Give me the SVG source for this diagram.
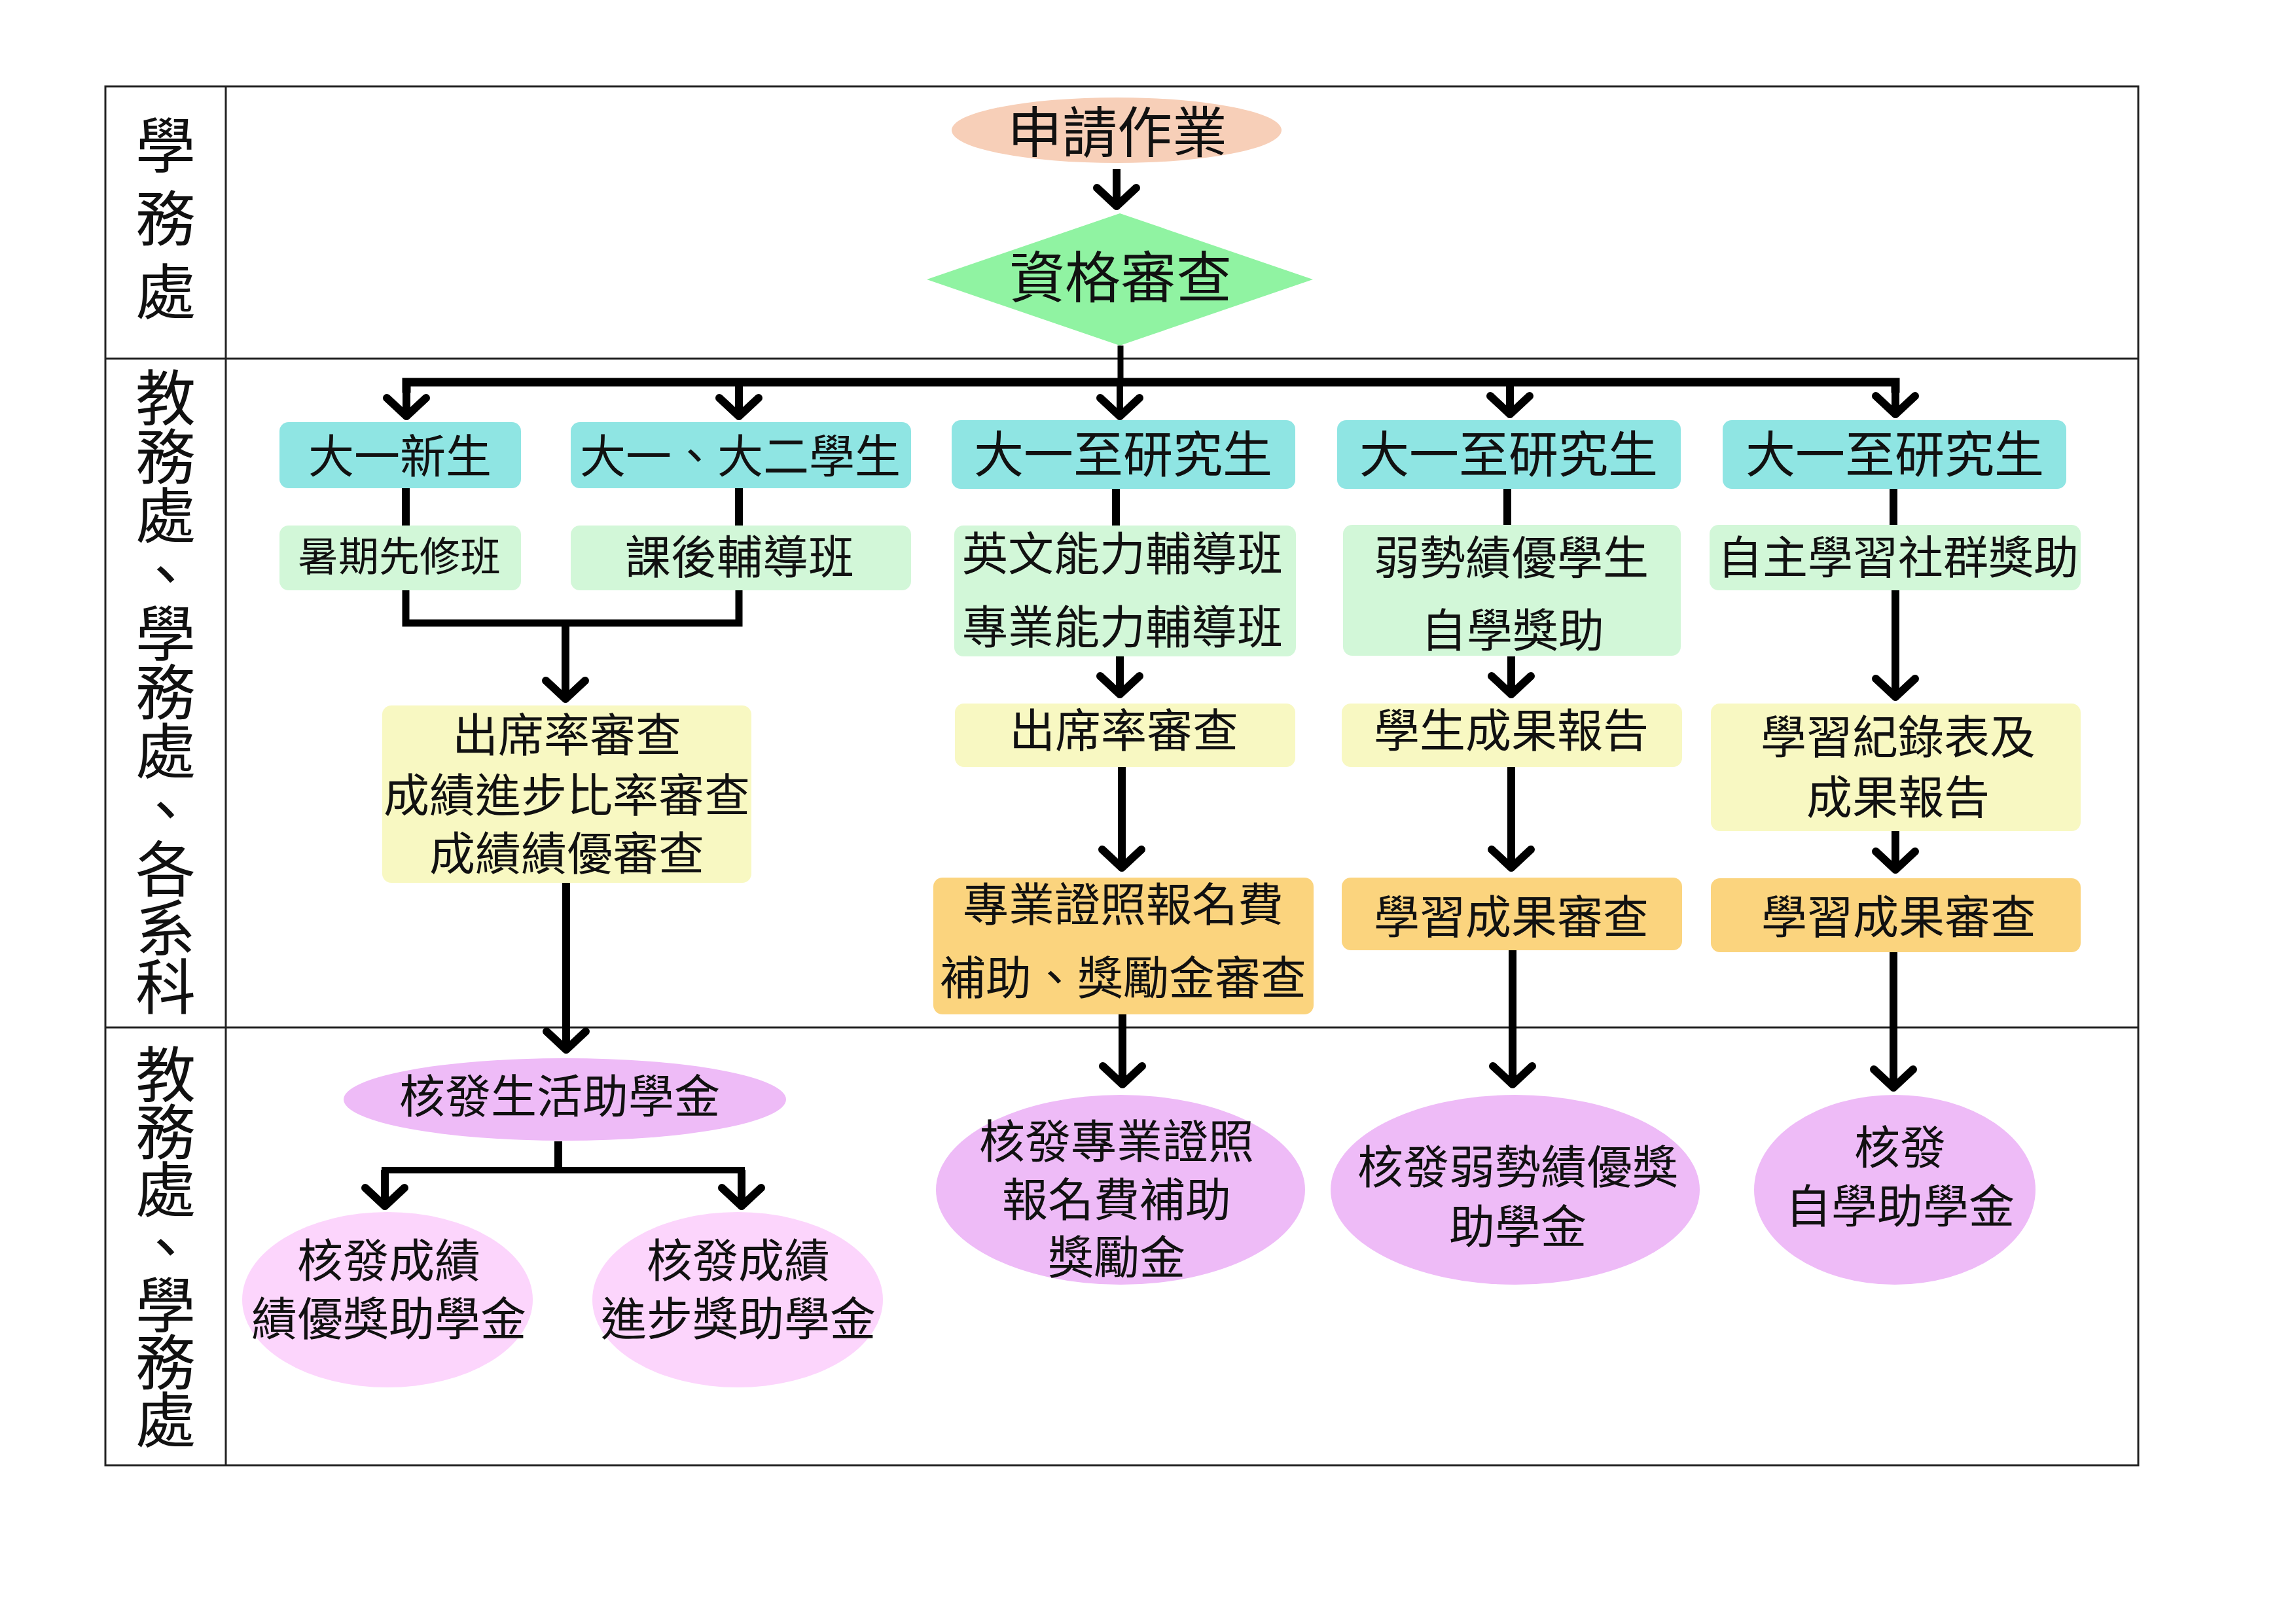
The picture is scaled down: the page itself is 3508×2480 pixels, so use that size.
<svg xmlns="http://www.w3.org/2000/svg" width="3508" height="2480" viewBox="0 0 3508 2480">
<style>
text{font-family:"Noto Sans CJK TC","Noto Sans CJK SC",sans-serif;fill:#111;text-anchor:middle}
.t70{font-size:70px}
.lane{font-size:92px;writing-mode:vertical-rl;text-anchor:start;text-orientation:upright}
.frame{fill:none;stroke:#222;stroke-width:3}
.cyan{fill:#8FE5E3}
.green{fill:#D2F7D8}
.yellow{fill:#F8F8C2}
.orange{fill:#FBD47E}
.violet{fill:#EEBBF7}
.pink{fill:#FCD5FC}
.conn{fill:none;stroke:#000;stroke-width:12;stroke-linejoin:miter}
</style>
<defs>
<marker id="chev" markerUnits="userSpaceOnUse" orient="auto" refX="0" refY="0" markerWidth="80" markerHeight="80" viewBox="-40 -40 80 80" overflow="visible">
<path d="M-28,-30 L0,0 L-28,30" fill="none" stroke="#000" stroke-width="12" stroke-linecap="round" stroke-linejoin="round"/>
</marker>
</defs>
<rect width="3508" height="2480" fill="#fff"/>
<g id="frame">
<rect class="frame" x="161" y="132" width="3106" height="2107"/>
<line class="frame" x1="345" y1="132" x2="345" y2="2239"/>
<line class="frame" x1="161" y1="548" x2="3267" y2="548"/>
<line class="frame" x1="161" y1="1570" x2="3267" y2="1570"/>
</g>
<g id="lane-labels">
<text class="lane" x="253" y="175" style="letter-spacing:20px">學務處</text>
<text class="lane" x="253" y="561" style="letter-spacing:-2px">教務處、學務處、各系科</text>
<text class="lane" x="253" y="1595" style="letter-spacing:-4px">教務處、學務處</text>
</g>
<g id="connectors">
<line class="conn" x1="1706" y1="258" x2="1706" y2="315" marker-end="url(#chev)"/>
<line class="conn" style="stroke-width:9" x1="1712" y1="528" x2="1712" y2="584"/>
<path class="conn" style="stroke-width:13" d="M621,600 V584 H2896 V600"/>
<line class="conn" x1="621" y1="584" x2="621" y2="636" marker-end="url(#chev)"/>
<line class="conn" x1="1129" y1="584" x2="1129" y2="636" marker-end="url(#chev)"/>
<line class="conn" style="stroke-width:10" x1="1711" y1="584" x2="1711" y2="636" marker-end="url(#chev)"/>
<line class="conn" x1="2307" y1="584" x2="2307" y2="633" marker-end="url(#chev)"/>
<line class="conn" x1="2896" y1="584" x2="2896" y2="633" marker-end="url(#chev)"/>
<line class="conn" x1="620" y1="746" x2="620" y2="803"/>
<line class="conn" x1="1129" y1="746" x2="1129" y2="803"/>
<line class="conn" x1="1705" y1="747" x2="1705" y2="803"/>
<line class="conn" x1="2303" y1="747" x2="2303" y2="802"/>
<line class="conn" x1="2893" y1="747" x2="2893" y2="802"/>
<path class="conn" style="stroke-width:11" d="M620,902 V952 H1129 V902"/>
<line class="conn" x1="864" y1="952" x2="864" y2="1068" marker-end="url(#chev)"/>
<line class="conn" x1="865" y1="1349" x2="865" y2="1604" marker-end="url(#chev)"/>
<line class="conn" x1="853" y1="1744" x2="853" y2="1788"/>
<path class="conn" style="stroke-width:10" d="M588,1843 V1788 H1133 V1843"/>
<line class="conn" x1="588" y1="1788" x2="588" y2="1843" marker-end="url(#chev)"/>
<line class="conn" x1="1133" y1="1788" x2="1133" y2="1843" marker-end="url(#chev)"/>
<line class="conn" x1="1711" y1="1003" x2="1711" y2="1061" marker-end="url(#chev)"/>
<line class="conn" x1="1714" y1="1172" x2="1714" y2="1326" marker-end="url(#chev)"/>
<line class="conn" x1="1715" y1="1550" x2="1715" y2="1657" marker-end="url(#chev)"/>
<line class="conn" x1="2309" y1="1003" x2="2309" y2="1061" marker-end="url(#chev)"/>
<line class="conn" x1="2309" y1="1172" x2="2309" y2="1326" marker-end="url(#chev)"/>
<line class="conn" x1="2311" y1="1452" x2="2311" y2="1657" marker-end="url(#chev)"/>
<line class="conn" x1="2896" y1="902" x2="2896" y2="1065" marker-end="url(#chev)"/>
<line class="conn" x1="2896" y1="1270" x2="2896" y2="1329" marker-end="url(#chev)"/>
<line class="conn" x1="2893" y1="1455" x2="2893" y2="1662" marker-end="url(#chev)"/>
</g>
<g id="n-apply">
<ellipse cx="1706" cy="199" rx="252" ry="50" fill="#F7CFB8"/>
<text x="1707" y="233" style="font-size:84px">申請作業</text>
</g>
<g id="n-check">
<polygon points="1416,427 1711,326 2006,427 1711,528" fill="#90F3A2"/>
<text x="1712" y="455" style="font-size:85px">資格審查</text>
</g>
<g id="n-fresh">
<rect class="cyan" x="427" y="645" width="369" height="101" rx="14"/>
<text class="t70" x="611" y="723">大一新生</text>
</g>
<g id="n-y12">
<rect class="cyan" x="872" y="645" width="520" height="101" rx="14"/>
<text class="t70" x="1131" y="723">大一、大二學生</text>
</g>
<g id="n-all1">
<rect class="cyan" x="1454" y="642" width="525" height="105" rx="14"/>
<text x="1716" y="722" style="font-size:76px">大一至研究生</text>
</g>
<g id="n-all2">
<rect class="cyan" x="2043" y="642" width="525" height="105" rx="14"/>
<text x="2305" y="722" style="font-size:76px">大一至研究生</text>
</g>
<g id="n-all3">
<rect class="cyan" x="2632" y="642" width="525" height="105" rx="14"/>
<text x="2895" y="722" style="font-size:76px">大一至研究生</text>
</g>
<g id="n-summer">
<rect class="green" x="427" y="803" width="369" height="99" rx="14"/>
<text x="610" y="873" style="font-size:62px">暑期先修班</text>
</g>
<g id="n-after">
<rect class="green" x="872" y="803" width="520" height="99" rx="14"/>
<text class="t70" x="1130" y="877">課後輔導班</text>
</g>
<g id="n-tutor">
<rect class="green" x="1458" y="803" width="522" height="200" rx="14"/>
<text class="t70" x="1715" y="872">英文能力輔導班</text>
<text class="t70" x="1715" y="984">專業能力輔導班</text>
</g>
<g id="n-disadv">
<rect class="green" x="2052" y="802" width="516" height="200" rx="14"/>
<text class="t70" x="2309" y="878">弱勢績優學生</text>
<text class="t70" x="2311" y="989">自學獎助</text>
</g>
<g id="n-community">
<rect class="green" x="2612" y="802" width="567" height="100" rx="14"/>
<text x="2900" y="877" style="font-size:69px">自主學習社群獎助</text>
</g>
<g id="n-review1">
<rect class="yellow" x="584" y="1078" width="564" height="271" rx="14"/>
<text class="t70" x="866" y="1149">出席率審查</text>
<text class="t70" x="866" y="1241">成績進步比率審查</text>
<text class="t70" x="866" y="1330">成績績優審查</text>
</g>
<g id="n-attend">
<rect class="yellow" x="1459" y="1075" width="520" height="97" rx="14"/>
<text class="t70" x="1717" y="1142">出席率審查</text>
</g>
<g id="n-report">
<rect class="yellow" x="2050" y="1075" width="520" height="97" rx="14"/>
<text class="t70" x="2309" y="1142">學生成果報告</text>
</g>
<g id="n-record">
<rect class="yellow" x="2614" y="1075" width="565" height="195" rx="14"/>
<text class="t70" x="2900" y="1152">學習紀錄表及</text>
<text class="t70" x="2900" y="1244">成果報告</text>
</g>
<g id="n-certreview">
<rect class="orange" x="1426" y="1341" width="581" height="209" rx="14"/>
<text class="t70" x="1716" y="1408">專業證照報名費</text>
<text class="t70" x="1716" y="1520">補助、獎勵金審查</text>
</g>
<g id="n-outcome1">
<rect class="orange" x="2050" y="1341" width="520" height="111" rx="14"/>
<text class="t70" x="2309" y="1427">學習成果審查</text>
</g>
<g id="n-outcome2">
<rect class="orange" x="2614" y="1342" width="565" height="113" rx="14"/>
<text class="t70" x="2901" y="1427">學習成果審查</text>
</g>
<g id="n-living">
<ellipse class="violet" cx="863" cy="1680" rx="338" ry="63"/>
<text class="t70" x="855" y="1701">核發生活助學金</text>
</g>
<g id="n-merit">
<ellipse class="pink" cx="592" cy="1986" rx="222" ry="134"/>
<text class="t70" x="594" y="1952">核發成績</text>
<text class="t70" x="594" y="2041">績優獎助學金</text>
</g>
<g id="n-progress">
<ellipse class="pink" cx="1127" cy="1986" rx="222" ry="134"/>
<text class="t70" x="1128" y="1952">核發成績</text>
<text class="t70" x="1128" y="2041">進步獎助學金</text>
</g>
<g id="n-cert">
<ellipse class="violet" cx="1712" cy="1818" rx="282" ry="145"/>
<text class="t70" x="1706" y="1770">核發專業證照</text>
<text class="t70" x="1706" y="1859">報名費補助</text>
<text class="t70" x="1706" y="1947">獎勵金</text>
</g>
<g id="n-disgrant">
<ellipse class="violet" cx="2315" cy="1818" rx="282" ry="145"/>
<text class="t70" x="2319" y="1809">核發弱勢績優獎</text>
<text class="t70" x="2319" y="1900">助學金</text>
</g>
<g id="n-selfgrant">
<ellipse class="violet" cx="2895" cy="1818" rx="215" ry="145"/>
<text class="t70" x="2903" y="1779">核發</text>
<text class="t70" x="2903" y="1869">自學助學金</text>
</g>
</svg>
